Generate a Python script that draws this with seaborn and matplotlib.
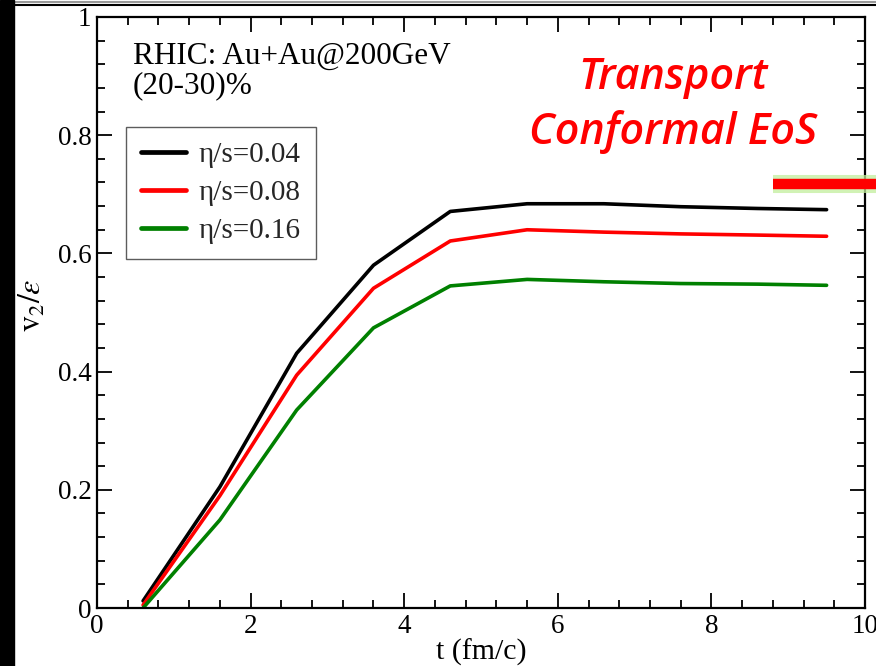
import numpy as np
import pandas as pd
import matplotlib
matplotlib.use("Agg")
import matplotlib.pyplot as plt
import matplotlib.patheffects as pe
from matplotlib.lines import Line2D
from matplotlib.patches import Rectangle
from matplotlib.ticker import MultipleLocator
import seaborn as sns

# ─── Data ─────────────────────────────────────────────────────────────────────

t_fm = [0.6, 1.6, 2.6, 3.6, 4.6, 5.6, 6.6, 7.6, 8.6, 9.5]
v2_eps_004 = [0.012, 0.205, 0.431, 0.580, 0.671, 0.684, 0.684, 0.679, 0.676, 0.674]
v2_eps_008 = [0.005, 0.190, 0.394, 0.541, 0.621, 0.640, 0.636, 0.633, 0.631, 0.629]
v2_eps_016 = [0.000, 0.149, 0.335, 0.474, 0.545, 0.556, 0.552, 0.549, 0.548, 0.546]
labels = ["η/s=0.04", "η/s=0.08", "η/s=0.16"]
colors = ["#000000", "#ff0000", "#008000"]

# ─── Style ────────────────────────────────────────────────────────────────────

sns.set_theme(style="white")
plt.rcParams["font.family"] = ["Liberation Serif", "DejaVu Serif"]
plt.rcParams["mathtext.fontset"] = "stix"

df = pd.concat([
    pd.DataFrame({"t": t_fm, "v2": vals, "eta": lab})
    for vals, lab in zip([v2_eps_004, v2_eps_008, v2_eps_016], labels)
], ignore_index=True)

fig = plt.figure(figsize=(8.76, 6.66), dpi=100)
ax = fig.add_axes([97 / 876, 1 - 608 / 666, 768 / 876, 591 / 666])

sns.lineplot(data=df, x="t", y="v2", hue="eta", palette=colors,
             linewidth=2.6, ax=ax, legend=True)

ax.set_xlim(0, 10)
ax.set_ylim(0, 1)
ax.xaxis.set_major_locator(MultipleLocator(2))
ax.xaxis.set_minor_locator(MultipleLocator(0.4))
ax.yaxis.set_major_locator(MultipleLocator(0.2))
ax.yaxis.set_minor_locator(MultipleLocator(0.04))
ax.set_xticks([0, 2, 4, 6, 8, 10], ["0", "2", "4", "6", "8", "10"])
ax.set_yticks([0, 0.2, 0.4, 0.6, 0.8, 1], ["0", "0.2", "0.4", "0.6", "0.8", "1"])
ax.tick_params(which="both", direction="in", top=True, right=True,
               bottom=True, left=True, labelsize=19.5, colors="black", pad=4)
ax.tick_params(which="major", length=11, width=1.3)
ax.tick_params(which="minor", length=5.5, width=1.3)
for sp in ax.spines.values():
    sp.set_color("black")
    sp.set_linewidth(1.6)

ax.set_xlabel("t (fm/c)", fontsize=21.5, color="black", labelpad=0)
ax.set_ylabel("")

leg = ax.legend(loc="upper left", bbox_to_anchor=(0.0378, 0.814), borderaxespad=0,
                fontsize=21, frameon=True, fancybox=False, handlelength=1.55,
                handletextpad=0.45, labelspacing=0.4, borderpad=0.5)
leg.get_frame().set_edgecolor("#333333")
leg.get_frame().set_linewidth(1.0)
for h in leg.get_lines():
    h.set_linewidth(3.4)

ax.text(0.047, 0.958, "RHIC: Au+Au@200GeV\n(20-30)%", fontsize=22.5,
        transform=ax.transAxes, color="black", va="top", ha="left",
        linespacing=1.0)

fig.text(0.768, 0.843, "Transport\nConformal EoS", fontsize=31, color="#ff0000",
         ha="center", va="center", fontstyle="italic", fontweight="semibold",
         family=["Open Sans", "DejaVu Sans"], linespacing=1.32)

fig.text(33 / 876, 1 - 305 / 666, r"$\mathrm{v}_2/\varepsilon$", fontsize=23,
         rotation=90, ha="center", va="center", color="black")

# red marker bar with soft green glow at the right edge
bar = Line2D([773 / 876, 1.0], [1 - 184 / 666, 1 - 184 / 666],
             transform=fig.transFigure, color="#ff0000", linewidth=7.5,
             solid_capstyle="butt", clip_on=False,
             path_effects=[pe.Stroke(linewidth=13, foreground="#c2ee9c", alpha=0.75),
                           pe.Normal()])
fig.add_artist(bar)

# screenshot framing: black strip on the left, lines at the top
fig.add_artist(Rectangle((0, 0), 14 / 876, 1, transform=fig.transFigure,
                         color="black", zorder=10))
fig.add_artist(Line2D([14 / 876, 1], [1 - 1.5 / 666, 1 - 1.5 / 666],
                      transform=fig.transFigure, color="#999999", linewidth=1.5))
fig.add_artist(Line2D([14 / 876, 1], [1 - 5 / 666, 1 - 5 / 666],
                      transform=fig.transFigure, color="black", linewidth=1.5))

fig.savefig("out.png", dpi=100)
